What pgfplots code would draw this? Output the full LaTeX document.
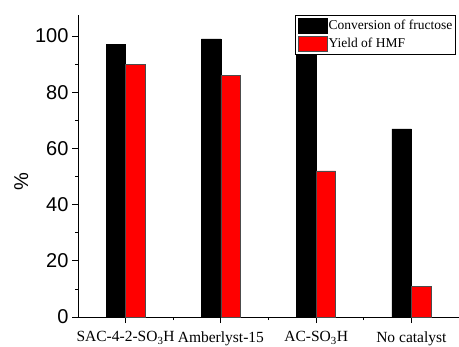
\documentclass[border=0pt]{standalone}
\usepackage{fontspec}
\setmainfont{Liberation Serif}
\newfontfamily\arialfont{Liberation Sans}
\usepackage{pgfplots}
\pgfplotsset{compat=1.18}
\begin{document}
\begin{tikzpicture}
\begin{axis}[
  name=ax,
  scale only axis,
  width=381pt, height=302pt,
  xmin=-0.5, xmax=3.5,
  ymin=0, ymax=107.5,
  ybar=0pt, bar width=19.5pt,
  axis x line*=bottom, axis y line*=left,
  axis line style={-, line width=0.8pt},
  tick align=outside,
  major tick length=6pt, minor tick length=3pt,
  tick style={line width=0.8pt, black},
  xtick={0,1,2,3},
  minor xtick={0.5,1.5,2.5},
  xticklabels={SAC-4-2-SO\textsubscript{3}H, Amberlyst-15, AC-SO\textsubscript{3}H, No catalyst},
  xticklabel style={font=\fontsize{15.5}{17}\selectfont, yshift=-5pt},
  ytick={0,20,40,60,80,100},
  minor ytick={10,30,50,70,90},
  /pgf/number format/assume math mode=true,
  yticklabel style={font=\arialfont\fontsize{20}{22}\selectfont},
  ylabel={\%},
  ylabel style={font=\arialfont\fontsize{20}{22}\selectfont, at={(ticklabel cs:0.447)}},
  legend style={at={(0.992,1.0)}, anchor=north east, draw=black, line width=1pt, fill=white,
    font=\fontsize{13.5}{14}\selectfont, inner sep=2pt, row sep=1pt,
    nodes={inner sep=1.2pt, text height=11pt, text depth=3.5pt}},
  legend image code/.code={\draw[#1, line width=0.4pt] (0pt,-7.5pt) rectangle (29pt,7.5pt);},
  legend cell align=left,
]
\addplot[fill=black, draw=black, line width=0.5pt] coordinates {(0,97) (1,99) (2,98) (3,67)};
\addplot[fill=red, draw=black!70, line width=0.5pt] coordinates {(0,90) (1,86) (2,52) (3,11)};
\legend{Conversion of fructose, Yield of HMF}
\end{axis}
\pgfresetboundingbox
\path ([shift={(-78pt,-29pt)}]ax.south west) rectangle ([shift={(0pt,15pt)}]ax.north east);
\end{tikzpicture}
\end{document}
